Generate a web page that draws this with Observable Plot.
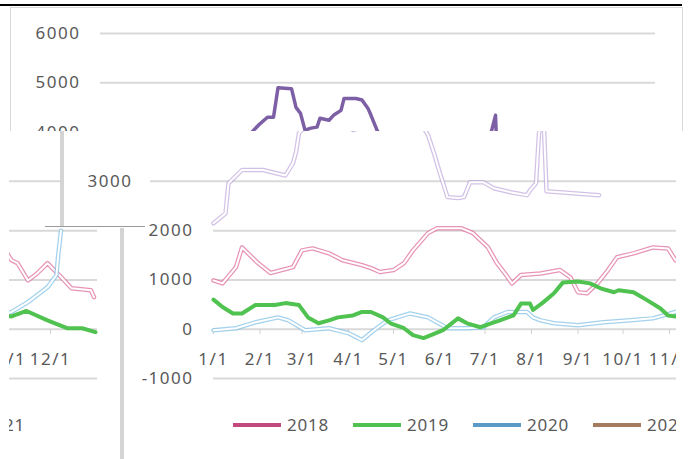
<!DOCTYPE html>
<html><head><meta charset="utf-8">
<script src="https://cdn.jsdelivr.net/npm/d3@7"></script>
<script src="https://cdn.jsdelivr.net/npm/@observablehq/plot@0.6"></script>
<style>
html,body{margin:0;padding:0;}
body{width:690px;height:459px;overflow:hidden;background:#fff;position:relative;font-family:"Noto Sans",sans-serif;}
.layer{position:absolute;overflow:hidden;background:#fff;}
.unit{position:absolute;width:780px;height:459px;}
.legend{position:absolute;top:413px;left:233px;height:24px;white-space:nowrap;}
.item{position:absolute;top:0;height:24px;width:120px;}
.item .sw{position:absolute;left:0;top:10px;width:48px;height:3.5px;}
.item .lb{position:absolute;left:54px;top:0;font-size:17px;line-height:24px;color:#595959;letter-spacing:0.8px;}
.deco{position:absolute;}
</style></head><body>
<div id="top" class="layer" style="left:0;top:0;width:690px;height:131px"></div>
<div id="main" class="layer" style="left:0;top:131px;width:676px;height:328px"></div>
<div id="frag" class="layer" style="left:0;top:131px;width:125px;height:328px;clip-path:polygon(9px 0,60px 0,60px 97px,120px 97px,120px 328px,9px 328px)"></div>
<div class="deco" style="left:0;top:4px;width:682px;height:2px;background:#000"></div>
<div class="deco" style="left:10px;top:7px;width:672px;height:1px;background:#d9d9d9"></div>
<div class="deco" style="left:10px;top:7px;width:1px;height:124px;background:#d9d9d9"></div>
<div class="deco" style="left:682px;top:7px;width:1px;height:124px;background:#d9d9d9"></div>
<div class="deco" style="left:60px;top:131px;width:4px;height:96px;background:#d4d4d4"></div>
<div class="deco" style="left:45px;top:226px;width:100px;height:1px;background:#9a9a9a"></div>
<div class="deco" style="left:120px;top:228px;width:4px;height:231px;background:#d4d4d4"></div>
<script>
// ---------- data ----------
const months = ["01-01","02-01","03-01","04-01","05-01","06-01","07-01","08-01","09-01","10-01","11-01","12-01"];
const yTicksTop = [4000, 5000, 6000];
const yTicksMain = [-1000, 0, 1000, 2000];
const yTickMid = [3000];

const dates2018 = ["01-01","01-07","01-16","01-20","01-30","02-08","02-23","03-01","03-08","03-19","03-28","04-10","04-16","04-22","05-01","05-08","05-14","05-24","05-30","06-15","06-23","07-03","07-09","07-16","07-19","07-25","08-07","08-20","08-27","09-01","09-07","09-14","09-21","09-27","10-08","10-21","10-31","11-05","11-09","11-16","11-22","11-29","12-08","12-15","12-28","12-30"];
const values2018 = [990,930,1260,1660,1360,1140,1260,1600,1640,1540,1400,1300,1240,1160,1200,1340,1600,1950,2050,2050,1950,1660,1340,1060,930,1100,1130,1200,1050,750,730,930,1200,1460,1540,1660,1640,1400,1340,990,1130,1340,1060,830,790,650];

const dates2019 = ["01-01","01-07","01-14","01-20","01-29","02-11","02-18","02-27","03-05","03-12","03-19","03-25","04-04","04-10","04-16","04-24","04-29","05-08","05-14","05-21","05-26","06-03","06-13","06-19","06-28","07-05","07-11","07-20","07-25","07-31","08-02","08-09","08-16","08-22","09-01","09-09","09-16","09-25","09-28","10-08","10-17","10-26","10-31","11-05","11-15","11-29","12-12","12-22","12-31"];
const values2019 = [600,450,320,320,490,490,530,490,240,120,180,240,280,350,350,240,120,20,-120,-180,-120,-20,220,120,40,120,180,280,520,520,390,550,730,950,970,930,830,750,790,750,590,420,280,260,370,180,20,20,-60];

const dates2020 = ["01-01","01-16","01-29","02-13","02-20","03-03","03-19","04-01","04-10","04-18","04-27","05-12","05-24","06-06","06-19","06-30","07-07","07-16","07-29","08-02","08-07","08-16","09-01","09-18","10-06","10-21","11-05","11-16","11-29","12-05","12-06","12-08"];
const values2020 = [-20,20,140,240,180,-20,20,-80,-220,-20,180,320,240,20,20,40,240,350,350,240,180,120,80,140,180,220,350,550,850,1100,1460,2000];

const dates2022 = ["01-01","01-09","01-11","01-20","02-03","02-18","02-23","02-25","02-27","03-04","03-10","03-14","03-17","03-26","03-29","04-01","04-04","04-08","04-12","04-14","04-20","04-23","04-28","04-30","05-08","05-12","05-16","05-18","05-22","05-24","05-28","06-01","06-06","06-13","06-17","06-21","06-30","07-07","07-18","07-29","07-31","08-04","08-06","08-09","08-11","09-15"];
const values2022 = [2150,2350,2960,3230,3230,3120,3370,3590,3980,4140,4300,4300,4900,4880,4500,4380,4040,4080,4100,4280,4240,4340,4440,4680,4680,4650,4480,4340,4040,3940,3570,3160,2680,2660,2680,2980,2980,2860,2780,2720,2820,2960,3980,4340,2800,2720];

const legendYears = ["2018","2019","2020","2021"];
const legendColors = ["#c2487d","#4fc24f","#5b9ac6","#a57d5e"];

// ---------- helpers ----------
const parse = s => new Date(`2021-${s}T00:00:00Z`);
const rows = (ds, vs) => ds.map((d, i) => ({date: parse(d), value: vs[i]}));
const s2018 = rows(dates2018, values2018);
const s2019 = rows(dates2019, values2019);
const s2020 = rows(dates2020, values2020);
const s2022 = rows(dates2022, values2022);
const monthDates = months.map(parse);
const xDomain = [parse("01-01"), new Date(Date.UTC(2022, 0, 1))];
const fmt = d => String(d);
const style = {fontFamily: '"Noto Sans", sans-serif', fontSize: "17px", color: "#595959", background: "transparent", overflow: "visible", letterSpacing: "1.5px"};

function hollow(data, color, op) {
  return [
    Plot.line(data, {x: "date", y: "value", stroke: color, strokeWidth: 4.5, strokeOpacity: op}),
    Plot.line(data, {x: "date", y: "value", stroke: "#fff", strokeWidth: 2})
  ];
}

function topChart() {
  return Plot.plot({
    width: 690, height: 459, marginLeft: 100, marginRight: 35, marginTop: 33, marginBottom: 81,
    x: {type: "utc", domain: xDomain, range: [165, 712.5], axis: null},
    y: {domain: [-1000, 6000], range: [378, 33], axis: null},
    style,
    marks: [
      Plot.ruleY(yTicksTop, {stroke: "#d9d9d9", strokeWidth: 2}),
      Plot.axisY(yTicksTop, {tickSize: 0, tickPadding: 20, tickFormat: fmt, label: null}),
      Plot.line(s2022, {x: "date", y: "value", stroke: "#7d5fa6", strokeWidth: 3.5})
    ]
  });
}

function mainUnit() {
  const unit = document.createElement("div");
  unit.className = "unit";
  const svg = Plot.plot({
    width: 780, height: 400, marginLeft: 213, marginRight: 19, marginTop: 33, marginBottom: 71,
    x: {type: "utc", domain: xDomain, range: [213, 760.5], axis: null},
    y: {domain: [-1000, 6000], range: [378, 33], axis: null},
    style,
    marks: [
      Plot.ruleY(yTicksMain, {stroke: "#d9d9d9", strokeWidth: 2}),
      Plot.ruleY(yTickMid, {stroke: "#d9d9d9", strokeWidth: 2, insetLeft: -63}),
      Plot.axisY(yTicksMain, {tickSize: 0, tickPadding: 20, tickFormat: fmt, label: null}),
      Plot.axisY(yTickMid, {tickSize: 0, tickPadding: 81, tickFormat: fmt, label: null}),
      Plot.axisX(monthDates, {anchor: "bottom", tickSize: 5, tickPadding: 18, stroke: "#d0d0d0", fill: "#595959", label: null,
        tickFormat: d => `${d.getUTCMonth() + 1}/1`}),
      ...hollow(s2022, "#b49ad6", 0.6),
      ...hollow(s2018, "#e0709f", 0.75),
      ...hollow(s2020, "#86c3e6", 0.75),
      Plot.line(s2019, {x: "date", y: "value", stroke: "#4fc24f", strokeWidth: 4})
    ]
  });
  svg.style.position = "absolute";
  svg.style.left = "0px";
  svg.style.top = "0px";
  unit.appendChild(svg);
  const leg = document.createElement("div");
  leg.className = "legend";
  legendYears.forEach((y, i) => {
    const it = document.createElement("div");
    it.className = "item";
    it.style.left = (i * 120) + "px";
    it.innerHTML = `<div class="sw" style="background:${legendColors[i]}"></div><div class="lb">${y}</div>`;
    leg.appendChild(it);
  });
  unit.appendChild(leg);
  return unit;
}

document.getElementById("top").appendChild(topChart());
const m = mainUnit(); m.style.left = "0px"; m.style.top = "-131px";
document.getElementById("main").appendChild(m);
const f = mainUnit(); f.style.left = "-664px"; f.style.top = "-131px";
document.getElementById("frag").appendChild(f);
</script>
</body></html>
